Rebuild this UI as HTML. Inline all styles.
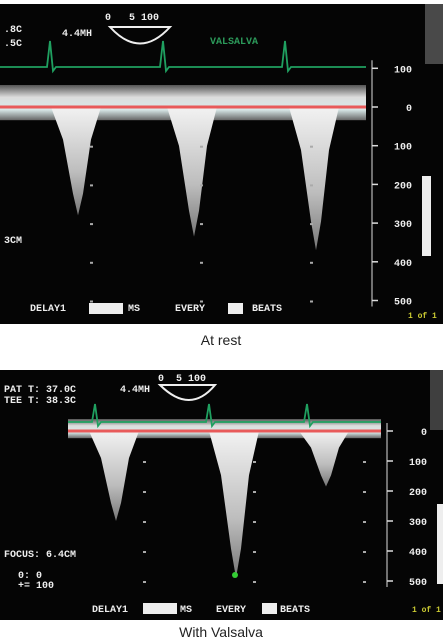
<!DOCTYPE html>
<html><head><meta charset="utf-8">
<style>
body{margin:0;background:#fff;width:443px;height:638px;overflow:hidden;font-family:"Liberation Sans",sans-serif}
svg{position:absolute;left:0;top:0}
.m{font-family:"Liberation Mono",monospace;font-weight:bold;white-space:pre}
</style></head><body>
<svg id="s" width="443" height="638">
<defs>
<linearGradient id="g" x1="0" y1="0" x2="0" y2="1"><stop offset="0" stop-color="#f2f2f2"/><stop offset="0.6" stop-color="#bdbdbd"/><stop offset="1" stop-color="#777"/></linearGradient>
<linearGradient id="bandg" x1="0" y1="0" x2="0" y2="1"><stop offset="0" stop-color="#555"/><stop offset="0.35" stop-color="#ddd"/><stop offset="0.7" stop-color="#d8e8e8"/><stop offset="1" stop-color="#666"/></linearGradient>
</defs>
<rect x="0" y="4" width="443" height="320" fill="#050505"/>
<rect x="0" y="370" width="443" height="250" fill="#050505"/>
<rect x="425" y="4" width="18" height="60" fill="#777" opacity="0.6"/>
<rect x="430" y="370" width="13" height="60" fill="#666" opacity="0.6"/>
<g id="top"></g><g id="bot"></g>
<text x="221" y="345" text-anchor="middle" font-size="14" fill="#222">At rest</text>
<text x="221" y="637" text-anchor="middle" font-size="14" fill="#222">With Valsalva</text>
</svg>
<script>
const ticksTop=[-100,0,100,200,300,400,500];
const peakTop=[280,335,370];
const beatTop=[0.72,1.88,3.10];
const ecgTop=[0.45,1.58,2.80];
const ticksBot=[0,100,200,300,400,500];
const peakBot=[300,490,185];
const beatBot=[0.47,1.67,2.57];
const ecgBot=[0.27,1.41,2.39];
const NS="http://www.w3.org/2000/svg";
function el(p,t,a,txt){const e=document.createElementNS(NS,t);for(const k in a)e.setAttribute(k,a[k]);if(txt!=null)e.textContent=txt;p.appendChild(e);return e;}
function panel(g,o){
 const y=v=>o.y0+v*o.k, x=t=>o.x0+t*100;
 const band=el(g,'rect',{x:o.xs,y:y(0)-o.bh,width:o.axis-o.xs-6,height:o.bh*1.6,fill:'url(#bandg)'});
 
 
 o.peaks.forEach((p,i)=>{
  const c=x(o.beats[i]);
  const pg=el(g,'polygon',{points:`${c-26},${y(0)} ${c+24},${y(0)} ${c+14},${y(p*0.3)} ${c+6},${y(p*0.8)} ${c+1},${y(p)} ${c-4},${y(p*0.8)} ${c-14},${y(p*0.3)}`,fill:'url(#g)'});
  
  
 });
 const rl=el(g,'line',{x1:o.xs,x2:o.axis-6,y1:y(0),y2:y(0),stroke:'#e85a5a','stroke-width':3});
 
 
 let d=`M${o.xs},${o.ecgY}`;
 o.ecg.forEach(t=>{const c=x(t);d+=` L${c-3},${o.ecgY} L${c},${o.ecgY-o.sp} L${c+3},${o.ecgY+4} L${c+6},${o.ecgY}`;});
 d+=` L${o.axis-6},${o.ecgY}`;
 const ec=el(g,'path',{d,stroke:'#1fa060','stroke-width':1.8,fill:'none'});
 
 
 const ax=el(g,'line',{x1:o.axis,x2:o.axis,y1:y(o.ticks[0])-8,y2:y(o.ticks[o.ticks.length-1])+6,stroke:'#ddd','stroke-width':1});
 
 
 o.ticks.forEach(v=>{
  el(g,'line',{x1:o.axis,x2:o.axis+6,y1:y(v),y2:y(v),stroke:'#ddd','stroke-width':1.5});
  const tx=el(g,'text',{x:o.axis+40,y:y(v)+4,'text-anchor':'end','font-size':10,fill:'#eee',class:'m'},String(Math.abs(v)));
  
  
  [0.65,1.75,2.85].forEach(t=>{if(v>0)el(g,'rect',{x:x(t)-o.dx,y:y(v),width:3,height:2,fill:'#aaa'});});
 });
 const u=el(g,'rect',{x:o.axis+50,y:o.uy,width:9,height:80,fill:'#eee'});
 
 
}
const T=document.getElementById('top'),B=document.getElementById('bot');
panel(T,{y0:107,k:0.387,x0:5,xs:0,axis:372,bh:22,peaks:peakTop,beats:beatTop,ticks:ticksTop,ecg:ecgTop,ecgY:67,sp:26,dx:-20,uy:176});
panel(B,{y0:431,k:0.30,x0:68,xs:68,axis:387,bh:12,peaks:peakBot,beats:beatBot,ticks:ticksBot,ecg:ecgBot,ecgY:422,sp:18,dx:-10,uy:504});
const gd=el(B,'circle',{cx:235,cy:575,r:3,fill:'#3c3'});


const txts=[[T,4,32,'.8C','#eee'],[T,4,46,'.5C','#eee'],[T,62,36,'4.4MH','#eee'],[T,105,20,'0   5 100','#eee'],[T,210,44,'VALSALVA','#2c9a5a'],[T,4,243,'3CM','#eee'],
[T,30,311,'DELAY1','#eee'],[T,128,311,'MS','#eee'],[T,175,311,'EVERY','#eee'],[T,252,311,'BEATS','#eee'],
[B,4,392,'PAT T: 37.0C','#eee'],[B,4,403,'TEE T: 38.3C','#eee'],[B,120,392,'4.4MH','#eee'],[B,158,381,'0  5 100','#eee'],[B,4,557,'FOCUS: 6.4CM','#eee'],[B,18,578,'0: 0','#eee'],[B,18,588,'+= 100','#eee'],
[B,92,612,'DELAY1','#eee'],[B,180,612,'MS','#eee'],[B,216,612,'EVERY','#eee'],[B,280,612,'BEATS','#eee']];
txts.forEach(a=>{const t=el(a[0],'text',{x:a[1],y:a[2],'font-size':10,fill:a[4],class:'m'},a[3]);});
[[T,89,303,34],[T,228,303,15],[B,143,603,34],[B,262,603,15]].forEach(a=>el(a[0],'rect',{x:a[1],y:a[2],width:a[3],height:11,fill:'#eee'}));
el(T,'path',{d:'M110,27 Q140,60 170,27 Z',stroke:'#eee',fill:'none','stroke-width':2});
el(B,'path',{d:'M160,385 Q190,415 215,385 Z',stroke:'#eee',fill:'none','stroke-width':2});
el(T,'text',{x:408,y:318,'font-size':8,fill:'#cc3',class:'m'},'1 of 1');
el(B,'text',{x:412,y:612,'font-size':8,fill:'#cc3',class:'m'},'1 of 1');
</script>
</body></html>
